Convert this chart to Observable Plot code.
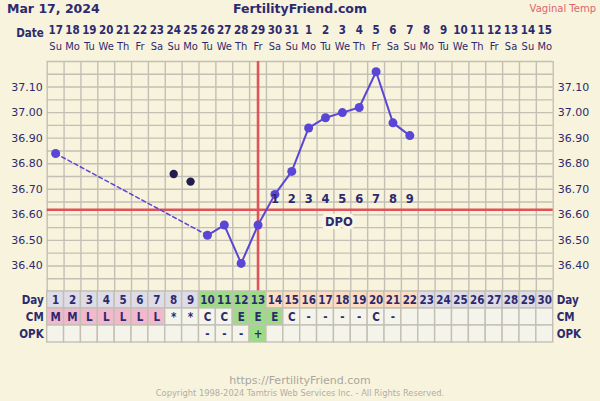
<!DOCTYPE html>
<html><head><meta charset="utf-8">
<script src="https://cdn.jsdelivr.net/npm/d3@7"></script>
<script src="https://cdn.jsdelivr.net/npm/@observablehq/plot@0.6"></script>
<style>
html,body{margin:0;padding:0;background:#f8f3dc;}
#wrap{position:relative;width:600px;height:401px;overflow:hidden;font-family:"DejaVu Sans",sans-serif;color:#2c2a6e;background:#f8f3dc;}
.abs{position:absolute;}
svg{display:block;}
#header svg text, #rows svg text, #temp svg text.lbl{font-family:"DejaVu Sans Condensed","DejaVu Sans",sans-serif;font-stretch:condensed;}
#temp svg text{font-family:"DejaVu Sans",sans-serif;}
</style></head><body><div id="wrap">
<div class="abs" style="left:7px;top:1px;font-weight:bold;font-size:12.5px;line-height:16px;">Mar 17, 2024</div>
<div class="abs" style="left:0;width:600px;top:1px;text-align:center;font-weight:bold;font-size:12.5px;line-height:16px;">FertilityFriend.com</div>
<div class="abs" style="right:4px;top:1px;font-size:10px;line-height:16px;color:#e06470;">Vaginal Temp</div>
<div class="abs" id="header" style="left:0;top:20px;"></div>
<div class="abs" id="temp" style="left:0;top:61px;"></div>
<div class="abs" id="rows" style="left:0;top:291px;"></div>
<div class="abs" style="left:0;width:600px;top:374px;text-align:center;font-size:11px;line-height:14px;color:#a9a7a0;">https://FertilityFriend.com</div>
<div class="abs" style="left:0;width:600px;top:388px;text-align:center;font-size:8.3px;line-height:11px;color:#b0aea6;">Copyright 1998-2024 Tamtris Web Services Inc. - All Rights Reserved.</div>
</div>
<script>
// ---- data ----
const cycleDays = [1,2,3,4,5,6,7,8,9,10,11,12,13,14,15,16,17,18,19,20,21,22,23,24,25,26,27,28,29,30];
const dateLabels = ["17","18","19","20","21","22","23","24","25","26","27","28","29","30","31","1","2","3","4","5","6","7","8","9","10","11","12","13","14","15"];
const weekdayLabels = ["Su","Mo","Tu","We","Th","Fr","Sa","Su","Mo","Tu","We","Th","Fr","Sa","Su","Mo","Tu","We","Th","Fr","Sa","Su","Mo","Tu","We","Th","Fr","Sa","Su","Mo"];
const tempDays = [1,10,11,12,13,14,15,16,17,18,19,20,21,22];
const tempValues = [36.84,36.52,36.56,36.41,36.56,36.68,36.77,36.94,36.98,37.00,37.02,37.16,36.96,36.91];
const discardDays = [8,9];
const discardValues = [36.76,36.73];
const coverline = 36.62;
const ovulationDay = 13;
const dpoDays = [14,15,16,17,18,19,20,21,22];
const dpoLabels = ["1","2","3","4","5","6","7","8","9"];
const yTickValues = [36.40,36.50,36.60,36.70,36.80,36.90,37.00,37.10];
const yGridValues = [36.30,36.35,36.40,36.45,36.50,36.55,36.60,36.65,36.70,36.75,36.80,36.85,36.90,36.95,37.00,37.05,37.10,37.15,37.20];
const cmLabels = ["M","M","L","L","L","L","L","*","*","C","C","E","E","E","C","-","-","-","-","C","-","","","","","","","","",""];
const opkLabels = ["","","","","","","","","","-","-","-","+","","","","","","","","","","","","","","","","",""];
const fertileDays = [10,11,12,13];
const lutealDays = [14,15,16,17,18,19,20,21,22];
const rowNames = ["Day","CM","OPK"];

// ---- style ----
const navy = "#2c2a6e";
const gridColor = "#c3bfb5";
const red = "#e05458";
const lineColor = "#5a46d6";
const colors = {plain:"#dedce6", fertile:"#9cdc86", luteal:"#fcddc2", pink:"#f2b9cc", empty:"#f5f4eb"};
const W = 600, ML = 46.7, MR = 47.3;
const xScale = {domain:[0.5,30.5], axis:null};
const bounds = [0.5, ...cycleDays.map(d => d + 0.5)];

// header
const headerData = cycleDays.map((d,i) => ({day:d, date:dateLabels[i], dow:weekdayLabels[i]}));
document.getElementById("header").append(Plot.plot({
  width:W, height:38, marginLeft:ML, marginRight:MR, marginTop:2, marginBottom:4,
  x:xScale, y:{type:"band", domain:["date","dow"], axis:null, padding:0},
  style:{background:"transparent", color:navy, overflow:"visible"},
  marks:[
    Plot.text(headerData, {x:"day", y:()=>"date", text:"date", fill:navy, fontWeight:"bold", fontSize:11.5}),
    Plot.text(headerData, {x:"day", y:()=>"dow", text:"dow", fill:navy, fontSize:11}),
    Plot.text(["Date"], {frameAnchor:"left", y:()=>"date", dy:3, dx:-3.5, textAnchor:"end", text:d=>d, fill:navy, fontWeight:"bold", fontSize:11.5})
  ]
}));

// temperature chart
const temps = tempDays.map((d,i)=>({day:d, t:tempValues[i]}));
const discards = discardDays.map((d,i)=>({day:d, t:discardValues[i]}));
const dpo = dpoDays.map((d,i)=>({day:d, label:dpoLabels[i]}));
document.getElementById("temp").append(Plot.plot({
  width:W, height:230, marginLeft:ML, marginRight:MR, marginTop:0, marginBottom:0,
  x:xScale,
  y:{domain:[36.30,37.20], axis:"both", ticks:yTickValues, tickFormat:d=>d.toFixed(2), tickSize:0, tickPadding:4.5, label:null},
  style:{background:"transparent", color:navy, fontSize:"11px", overflow:"visible"},
  marks:[
    Plot.ruleY(yGridValues, {stroke:gridColor, strokeWidth:1.4}),
    Plot.ruleX(bounds, {stroke:gridColor, strokeWidth:1.4}),
    Plot.ruleY([coverline], {stroke:red, strokeWidth:2.6}),
    Plot.ruleX([ovulationDay], {stroke:red, strokeWidth:2.6}),
    Plot.line(temps.slice(0,2), {x:"day", y:"t", stroke:lineColor, strokeWidth:1.5, strokeDasharray:"4,3"}),
    Plot.line(temps.slice(1), {x:"day", y:"t", stroke:lineColor, strokeWidth:2}),
    Plot.dot(temps, {x:"day", y:"t", r:4.5, fill:lineColor, stroke:"none"}),
    Plot.dot(discards, {x:"day", y:"t", r:4.2, fill:"#231d4f", stroke:"none"}),
    Plot.text(dpo, {x:"day", y:()=>coverline, dy:-10, text:"label", fill:navy, fontWeight:"bold", fontSize:11.5, className:"lbl"}),
    Plot.text(["DPO"], {x:()=>d3.mean(dpoDays), y:()=>coverline, dx:-3.5, dy:13, text:d=>d, fill:navy, fontWeight:"bold", fontSize:11.5, stroke:"#faf6e4", strokeWidth:7, paintOrder:"stroke", className:"lbl"})
  ]
}));

// rows
const fillFor = (row, d, i) => {
  if (row === "Day") return fertileDays.includes(d) ? colors.fertile : lutealDays.includes(d) ? colors.luteal : colors.plain;
  if (row === "CM") { const v = cmLabels[i]; return (v==="M"||v==="L") ? colors.pink : v==="E" ? colors.fertile : colors.empty; }
  return opkLabels[i] === "+" ? colors.fertile : colors.empty;
};
const cells = [];
for (const row of rowNames) cycleDays.forEach((d,i) => {
  const label = row==="Day" ? String(d) : row==="CM" ? cmLabels[i] : opkLabels[i];
  cells.push({row, day:d, label, fill:fillFor(row,d,i)});
});
document.getElementById("rows").append(Plot.plot({
  width:W, height:51, marginLeft:ML, marginRight:MR, marginTop:0, marginBottom:0,
  x:xScale, y:{type:"band", domain:rowNames, axis:null, padding:0},
  style:{background:"transparent", color:navy, overflow:"visible"},
  marks:[
    Plot.barX(cells, {x1:d=>d.day-0.5, x2:d=>d.day+0.5, y:"row", fill:"fill", stroke:gridColor, strokeWidth:1.4, inset:0}),
    Plot.text(cells.filter(c=>c.label), {x:"day", y:"row", text:"label", fill:navy, fontWeight:"bold", fontSize:11.5}),
    Plot.text(rowNames, {frameAnchor:"left", y:d=>d, text:d=>d, textAnchor:"end", dx:-3.5, fill:navy, fontWeight:"bold", fontSize:11.5}),
    Plot.text(rowNames, {frameAnchor:"right", y:d=>d, text:d=>d, textAnchor:"start", dx:3.5, fill:navy, fontWeight:"bold", fontSize:11.5})
  ]
}));
</script>
</body></html>
